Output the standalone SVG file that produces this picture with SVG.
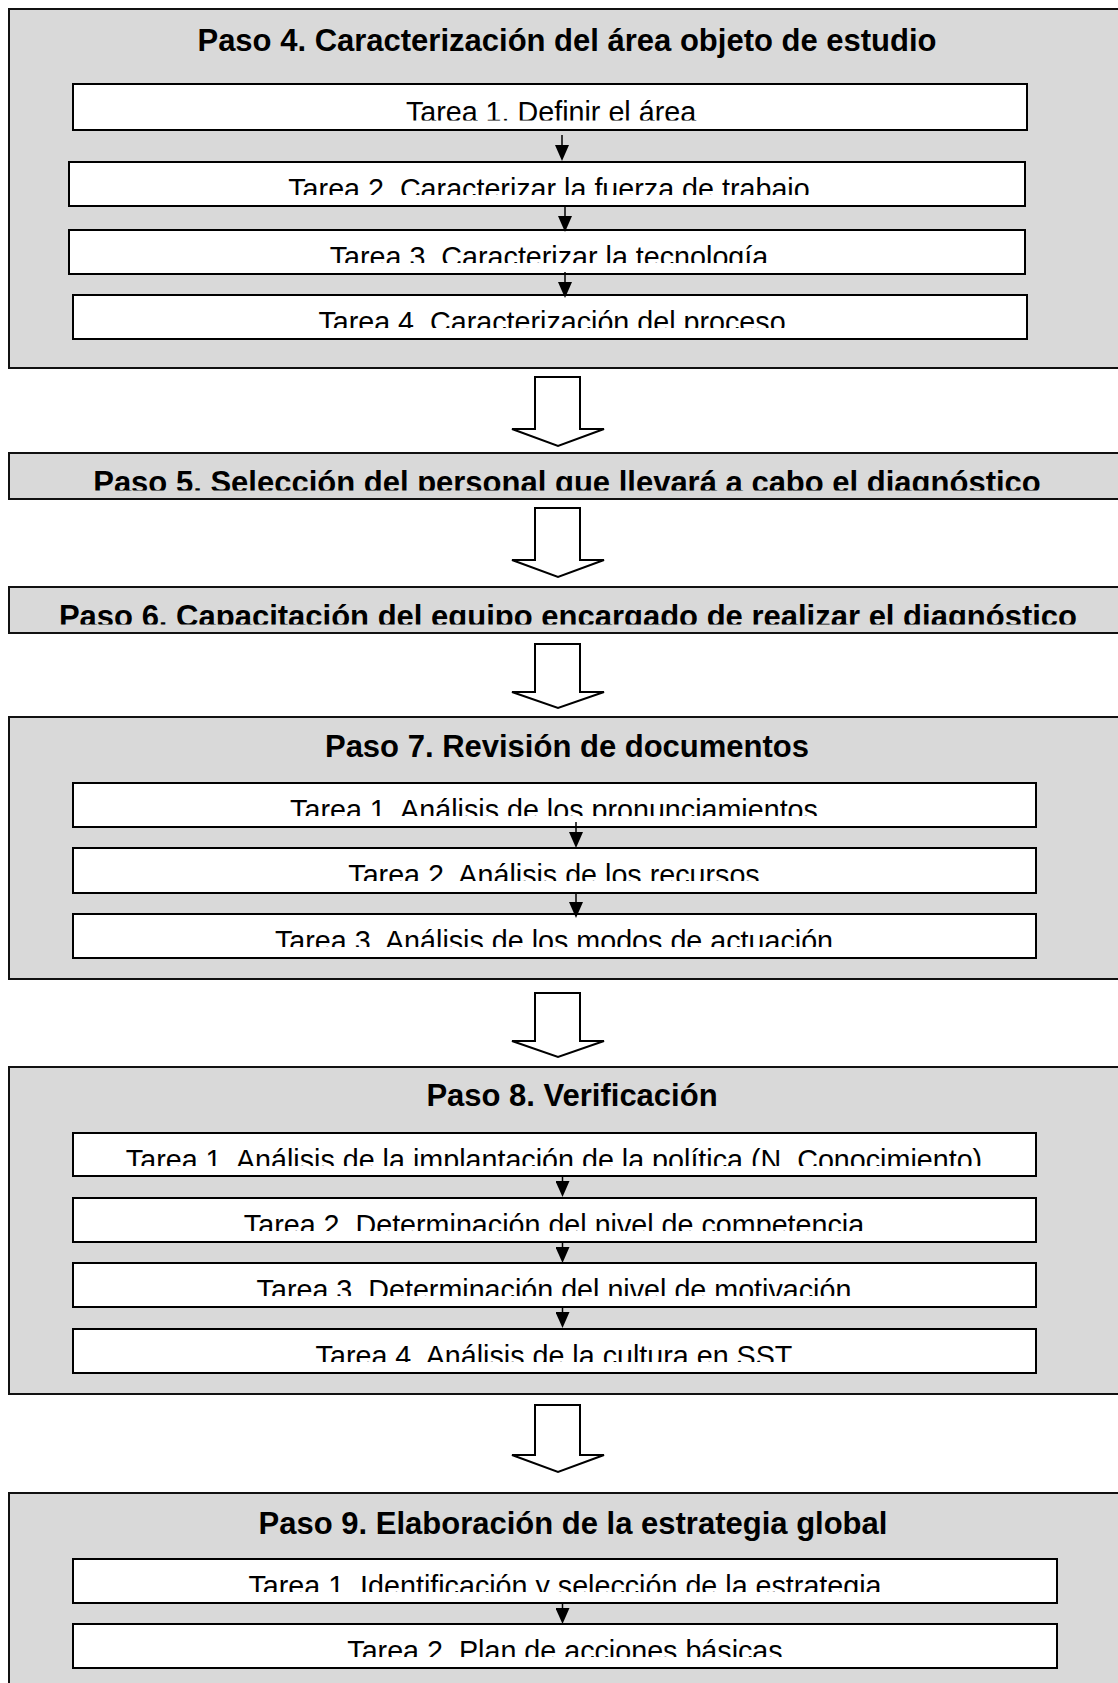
<svg xmlns="http://www.w3.org/2000/svg" width="1118" height="1683" viewBox="0 0 1118 1683">
  <style>
    .step { fill: #d9d9d9; stroke: #111; stroke-width: 2; }
    .task { fill: #ffffff; stroke: #000; stroke-width: 2; }
    .title { font-family: "Liberation Sans", Arial, sans-serif; font-weight: bold; font-size: 31px; text-anchor: middle; fill: #000; }
    .label { font-family: "Liberation Sans", Arial, sans-serif; font-size: 28.7px; text-anchor: middle; fill: #000; }
    .flow { fill: #ffffff; stroke: #000; stroke-width: 2; stroke-linejoin: miter; }
    .link { stroke: #000; stroke-width: 1.5; fill: none; marker-end: url(#ah); }
  </style>
  <defs>
    <marker id="ah" markerUnits="userSpaceOnUse" markerWidth="16" markerHeight="14" viewBox="0 0 16 14" refX="12" refY="7" orient="auto">
      <path d="M0,0 L16,7 L0,14 z" fill="#000"/>
    </marker>
    <!-- text areas of the boxes (labels are cut at the lower edge of the text frame) -->
    <clipPath id="c5" clipPathUnits="userSpaceOnUse"><rect x="9" y="453" width="1116" height="37.5"/></clipPath>
    <clipPath id="c6" clipPathUnits="userSpaceOnUse"><rect x="9" y="587" width="1116" height="37.5"/></clipPath>
    <clipPath id="c41" clipPathUnits="userSpaceOnUse"><rect x="73" y="84" width="954" height="36.5"/></clipPath>
    <clipPath id="c42" clipPathUnits="userSpaceOnUse"><rect x="69" y="162" width="956" height="33"/></clipPath>
    <clipPath id="c43" clipPathUnits="userSpaceOnUse"><rect x="69" y="230" width="956" height="33"/></clipPath>
    <clipPath id="c44" clipPathUnits="userSpaceOnUse"><rect x="73" y="295" width="954" height="33"/></clipPath>
    <clipPath id="c71" clipPathUnits="userSpaceOnUse"><rect x="73" y="783" width="963" height="33"/></clipPath>
    <clipPath id="c72" clipPathUnits="userSpaceOnUse"><rect x="73" y="848" width="963" height="33"/></clipPath>
    <clipPath id="c73" clipPathUnits="userSpaceOnUse"><rect x="73" y="914" width="963" height="33"/></clipPath>
    <clipPath id="c81" clipPathUnits="userSpaceOnUse"><rect x="73" y="1133" width="963" height="33"/></clipPath>
    <clipPath id="c82" clipPathUnits="userSpaceOnUse"><rect x="73" y="1198" width="963" height="33"/></clipPath>
    <clipPath id="c83" clipPathUnits="userSpaceOnUse"><rect x="73" y="1263" width="963" height="33"/></clipPath>
    <clipPath id="c84" clipPathUnits="userSpaceOnUse"><rect x="73" y="1329" width="963" height="33"/></clipPath>
    <clipPath id="c91" clipPathUnits="userSpaceOnUse"><rect x="73" y="1559" width="984" height="33"/></clipPath>
    <clipPath id="c92" clipPathUnits="userSpaceOnUse"><rect x="73" y="1624" width="984" height="33"/></clipPath>
  </defs>

  <!-- Paso 4 -->
  <g id="paso4">
    <rect class="step" x="9" y="9" width="1116" height="359"/>
    <text class="title" x="567" y="51">Paso 4. Caracterización del área objeto de estudio</text>
    <g id="paso4-tarea1">
      <rect class="task" x="73" y="84" width="954" height="46"/>
      <text class="label" x="551" y="122" clip-path="url(#c41)">Tarea 1. Definir el área</text>
    </g>
    <g id="paso4-tarea2">
      <rect class="task" x="69" y="162" width="956" height="44"/>
      <text class="label" x="549" y="199" clip-path="url(#c42)">Tarea 2. Caracterizar la fuerza de trabajo</text>
    </g>
    <g id="paso4-tarea3">
      <rect class="task" x="69" y="230" width="956" height="44"/>
      <text class="label" x="549" y="267" clip-path="url(#c43)">Tarea 3. Caracterizar la tecnología</text>
    </g>
    <g id="paso4-tarea4">
      <rect class="task" x="73" y="295" width="954" height="44"/>
      <text class="label" x="552" y="332" clip-path="url(#c44)">Tarea 4. Caracterización del proceso</text>
    </g>
  </g>

  <!-- Paso 5 -->
  <g id="paso5">
    <rect class="step" x="9" y="453" width="1116" height="46"/>
    <text class="title" x="567" y="492.5" clip-path="url(#c5)">Paso 5. Selección del personal que llevará a cabo el diagnóstico</text>
  </g>

  <!-- Paso 6 -->
  <g id="paso6">
    <rect class="step" x="9" y="587" width="1116" height="46"/>
    <text class="title" x="568" y="626.5" clip-path="url(#c6)">Paso 6. Capacitación del equipo encargado de realizar el diagnóstico</text>
  </g>

  <!-- Paso 7 -->
  <g id="paso7">
    <rect class="step" x="9" y="717" width="1116" height="262"/>
    <text class="title" x="567" y="757">Paso 7. Revisión de documentos</text>
    <g id="paso7-tarea1">
      <rect class="task" x="73" y="783" width="963" height="44"/>
      <text class="label" x="554" y="820" clip-path="url(#c71)">Tarea 1. Análisis de los pronunciamientos</text>
    </g>
    <g id="paso7-tarea2">
      <rect class="task" x="73" y="848" width="963" height="45"/>
      <text class="label" x="554" y="885" clip-path="url(#c72)">Tarea 2. Análisis de los recursos</text>
    </g>
    <g id="paso7-tarea3">
      <rect class="task" x="73" y="914" width="963" height="44"/>
      <text class="label" x="554" y="951" clip-path="url(#c73)">Tarea 3. Análisis de los modos de actuación</text>
    </g>
  </g>

  <!-- Paso 8 -->
  <g id="paso8">
    <rect class="step" x="9" y="1067" width="1116" height="327"/>
    <text class="title" x="572" y="1106">Paso 8. Verificación</text>
    <g id="paso8-tarea1">
      <rect class="task" x="73" y="1133" width="963" height="43"/>
      <text class="label" x="554" y="1170" clip-path="url(#c81)">Tarea 1. Análisis de la implantación de la política (N. Conocimiento)</text>
    </g>
    <g id="paso8-tarea2">
      <rect class="task" x="73" y="1198" width="963" height="44"/>
      <text class="label" x="554" y="1235" clip-path="url(#c82)">Tarea 2. Determinación del nivel de competencia</text>
    </g>
    <g id="paso8-tarea3">
      <rect class="task" x="73" y="1263" width="963" height="44"/>
      <text class="label" x="554" y="1300" clip-path="url(#c83)">Tarea 3. Determinación del nivel de motivación</text>
    </g>
    <g id="paso8-tarea4">
      <rect class="task" x="73" y="1329" width="963" height="44"/>
      <text class="label" x="554" y="1366" clip-path="url(#c84)">Tarea 4. Análisis de la cultura en SST</text>
    </g>
  </g>

  <!-- Paso 9 -->
  <g id="paso9">
    <rect class="step" x="9" y="1493" width="1116" height="200"/>
    <text class="title" x="573" y="1534">Paso 9. Elaboración de la estrategia global</text>
    <g id="paso9-tarea1">
      <rect class="task" x="73" y="1559" width="984" height="44"/>
      <text class="label" x="565" y="1596" clip-path="url(#c91)">Tarea 1. Identificación y selección de la estrategia</text>
    </g>
    <g id="paso9-tarea2">
      <rect class="task" x="73" y="1624" width="984" height="44"/>
      <text class="label" x="565" y="1661" clip-path="url(#c92)">Tarea 2. Plan de acciones básicas</text>
    </g>
  </g>

  <!-- connectors: block arrows between steps, thin arrows between tasks -->
  <g id="connectors">
    <polygon class="flow" points="535,377 580,377 580,429 604,429 558,446 512,429 535,429"/>
    <polygon class="flow" points="535,508 580,508 580,560 604,560 558,577 512,560 535,560"/>
    <polygon class="flow" points="535,644 580,644 580,692 604,692 558,708 512,692 535,692"/>
    <polygon class="flow" points="535,993 580,993 580,1041 604,1041 558,1057 512,1041 535,1041"/>
    <polygon class="flow" points="535,1405 580,1405 580,1455 604,1455 558,1472 512,1455 535,1455"/>

    <line class="link" x1="562" y1="135" x2="562" y2="157"/>
    <line class="link" x1="565" y1="206" x2="565" y2="228"/>
    <line class="link" x1="565" y1="272" x2="565" y2="294"/>

    <line class="link" x1="576" y1="822" x2="576" y2="844"/>
    <line class="link" x1="576" y1="892" x2="576" y2="914"/>

    <line class="link" x1="562.5" y1="1176" x2="562.5" y2="1193"/>
    <line class="link" x1="562.5" y1="1242" x2="562.5" y2="1259"/>
    <line class="link" x1="562.5" y1="1307" x2="562.5" y2="1324"/>

    <line class="link" x1="562.5" y1="1603" x2="562.5" y2="1620"/>
  </g>
</svg>
